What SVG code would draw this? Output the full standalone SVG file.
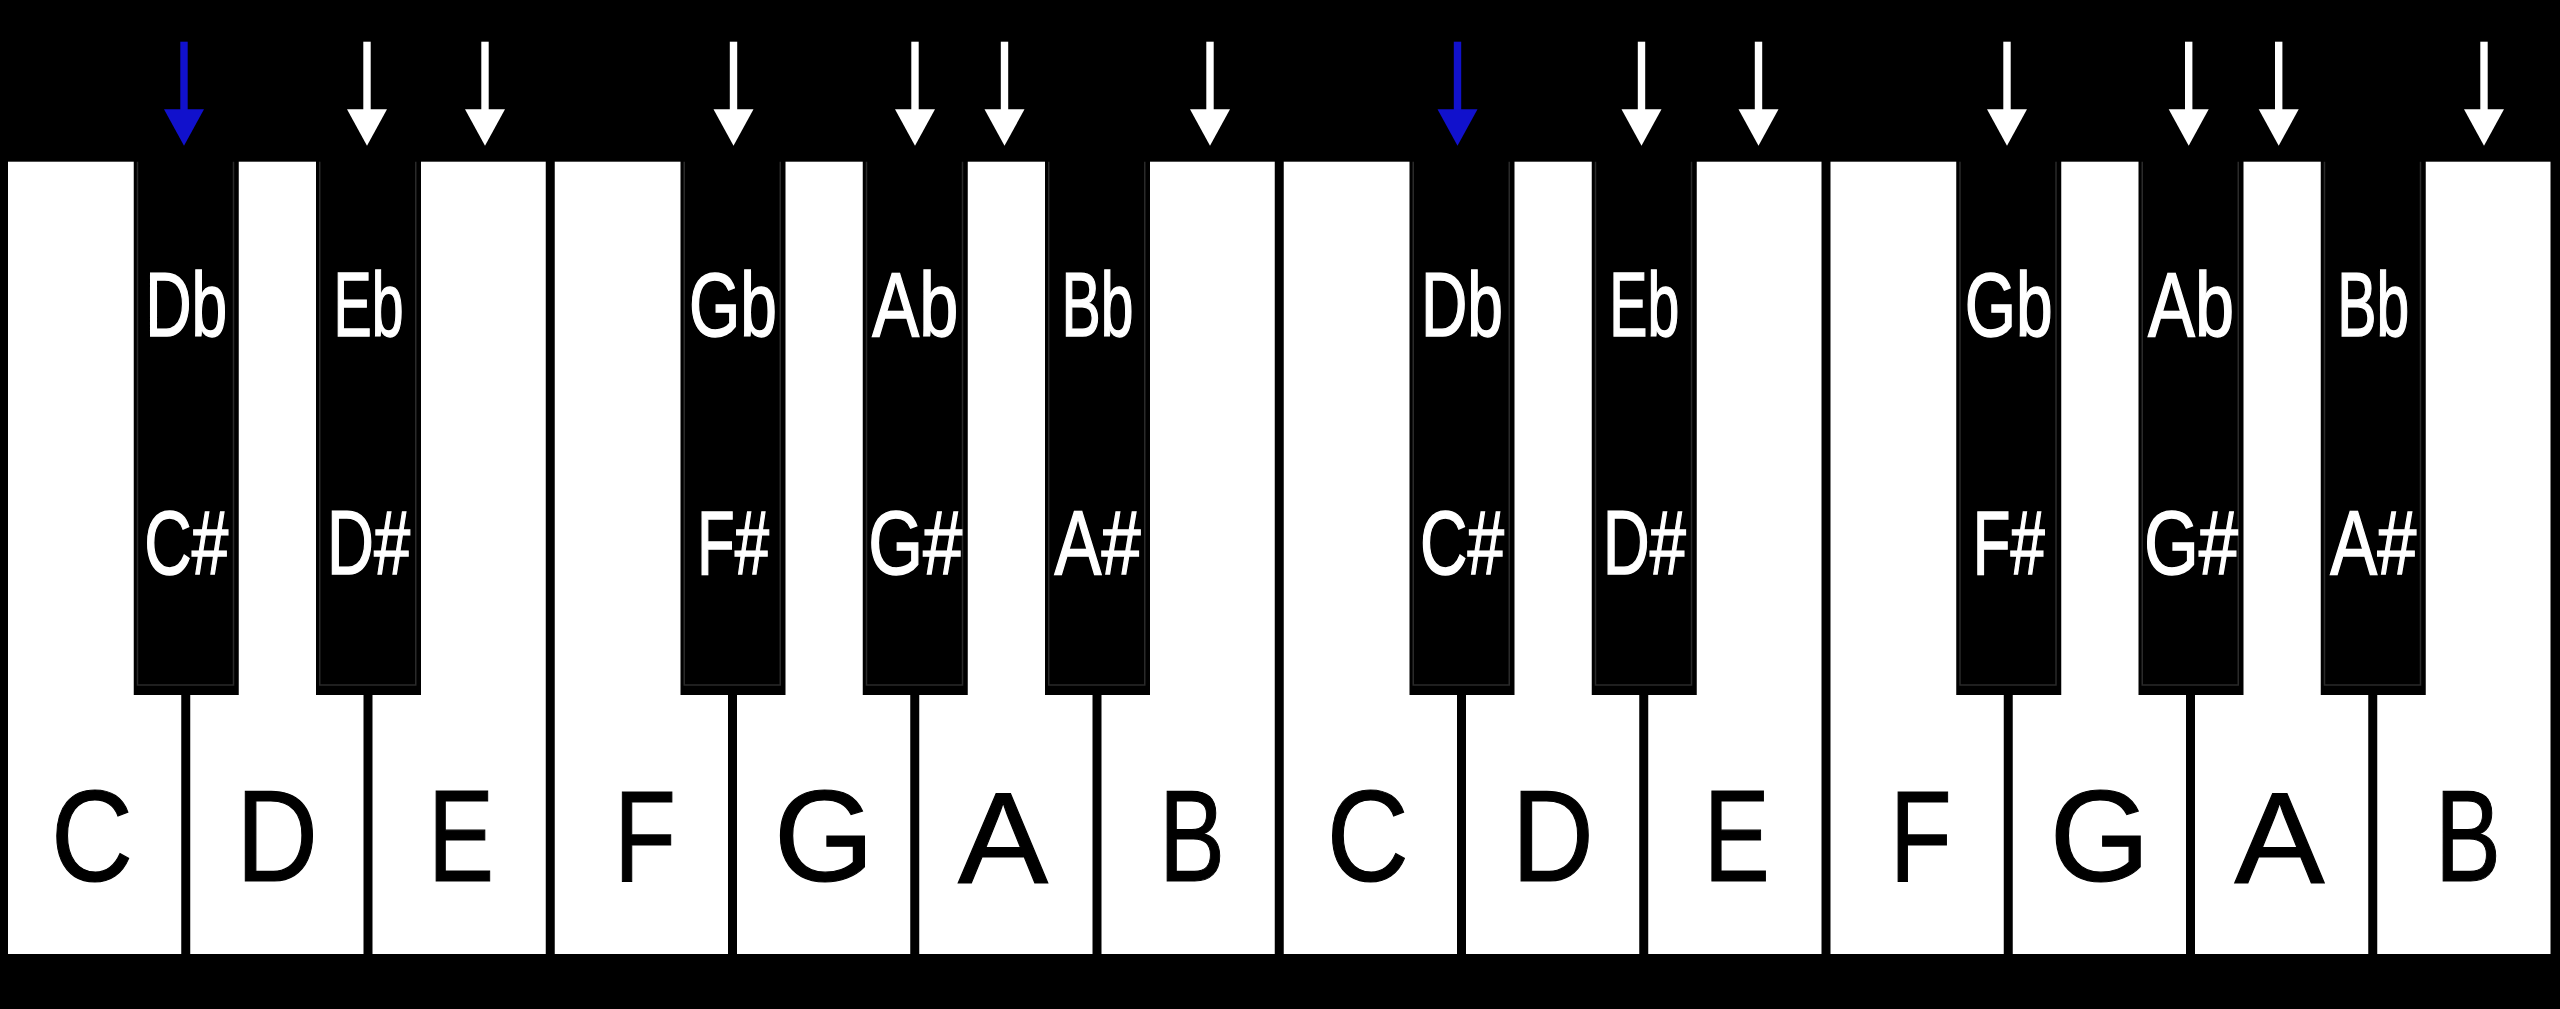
<svg xmlns="http://www.w3.org/2000/svg" width="2560" height="1009" viewBox="0 0 2560 1009">
<style>
.wk{fill:#ffffff}
.bk{fill:#000000}
.bko{fill:none;stroke:#2a2a2a;stroke-width:1.5}
.wl{font-family:"Liberation Sans",Arial,sans-serif;font-size:130px;fill:#000;stroke:#000;stroke-width:1.2;text-anchor:middle}
.bl{font-family:"Liberation Sans",Arial,sans-serif;font-size:91px;fill:#fff;stroke:#fff;stroke-width:1.5;text-anchor:middle}
.aw{fill:#ffffff}
.ab{fill:#1111cc}
</style>
<defs>
<g id="arrow"><rect x="-3.7" y="41.7" width="7.4" height="69"/><polygon points="-20,109.3 20,109.3 0,145.7"/></g>
</defs>
<rect x="0" y="0" width="2560" height="1009" fill="#000"/>
<g id="white-keys">
<g id="key-C1"><rect class="wk" x="8" y="161.7" width="173.25" height="792.3"/><text class="wl" x="92" y="881" textLength="82" lengthAdjust="spacingAndGlyphs">C</text></g>
<g id="key-D1"><rect class="wk" x="190.25" y="161.7" width="173.25" height="792.3"/><text class="wl" x="277" y="881" textLength="82" lengthAdjust="spacingAndGlyphs">D</text></g>
<g id="key-E1"><rect class="wk" x="372.5" y="161.7" width="173.25" height="792.3"/><text class="wl" x="461" y="881" textLength="66" lengthAdjust="spacingAndGlyphs">E</text></g>
<g id="key-F1"><rect class="wk" x="554.75" y="161.7" width="173.25" height="792.3"/><text class="wl" x="645" y="881" textLength="62" lengthAdjust="spacingAndGlyphs">F</text></g>
<g id="key-G1"><rect class="wk" x="737" y="161.7" width="173.25" height="792.3"/><text class="wl" x="824" y="881" textLength="100" lengthAdjust="spacingAndGlyphs">G</text></g>
<g id="key-A1"><rect class="wk" x="919.25" y="161.7" width="173.25" height="792.3"/><text class="wl" x="1003" y="883" textLength="90" lengthAdjust="spacingAndGlyphs">A</text></g>
<g id="key-B1"><rect class="wk" x="1101.5" y="161.7" width="173.25" height="792.3"/><text class="wl" x="1192" y="881" textLength="66" lengthAdjust="spacingAndGlyphs">B</text></g>
<g id="key-C2"><rect class="wk" x="1283.75" y="161.7" width="173.25" height="792.3"/><text class="wl" x="1367.75" y="881" textLength="82" lengthAdjust="spacingAndGlyphs">C</text></g>
<g id="key-D2"><rect class="wk" x="1466" y="161.7" width="173.25" height="792.3"/><text class="wl" x="1552.75" y="881" textLength="82" lengthAdjust="spacingAndGlyphs">D</text></g>
<g id="key-E2"><rect class="wk" x="1648.25" y="161.7" width="173.25" height="792.3"/><text class="wl" x="1736.75" y="881" textLength="66" lengthAdjust="spacingAndGlyphs">E</text></g>
<g id="key-F2"><rect class="wk" x="1830.5" y="161.7" width="173.25" height="792.3"/><text class="wl" x="1920.75" y="881" textLength="62" lengthAdjust="spacingAndGlyphs">F</text></g>
<g id="key-G2"><rect class="wk" x="2012.75" y="161.7" width="173.25" height="792.3"/><text class="wl" x="2099.75" y="881" textLength="100" lengthAdjust="spacingAndGlyphs">G</text></g>
<g id="key-A2"><rect class="wk" x="2195" y="161.7" width="173.25" height="792.3"/><text class="wl" x="2279.5" y="883" textLength="90" lengthAdjust="spacingAndGlyphs">A</text></g>
<g id="key-B2"><rect class="wk" x="2377.25" y="161.7" width="173.25" height="792.3"/><text class="wl" x="2468" y="881" textLength="66" lengthAdjust="spacingAndGlyphs">B</text></g>
</g>
<g id="black-keys">
<g id="key-Db1"><rect class="bk" x="133.75" y="150" width="105" height="545"/><path class="bko" d="M137.5,161.7 V685 H233.5 V161.7"/><text class="bl" x="186.25" y="336" textLength="82" lengthAdjust="spacingAndGlyphs">Db</text><text class="bl" x="186.25" y="574" textLength="84" lengthAdjust="spacingAndGlyphs">C#</text></g>
<g id="key-Eb1"><rect class="bk" x="316" y="150" width="105" height="545"/><path class="bko" d="M319.75,161.7 V685 H415.75 V161.7"/><text class="bl" x="368.5" y="336" textLength="70" lengthAdjust="spacingAndGlyphs">Eb</text><text class="bl" x="368.5" y="574" textLength="83" lengthAdjust="spacingAndGlyphs">D#</text></g>
<g id="key-Gb1"><rect class="bk" x="680.5" y="150" width="105" height="545"/><path class="bko" d="M684.25,161.7 V685 H780.25 V161.7"/><text class="bl" x="733" y="336" textLength="88" lengthAdjust="spacingAndGlyphs">Gb</text><text class="bl" x="733" y="574" textLength="72" lengthAdjust="spacingAndGlyphs">F#</text></g>
<g id="key-Ab1"><rect class="bk" x="862.75" y="150" width="105" height="545"/><path class="bko" d="M866.5,161.7 V685 H962.5 V161.7"/><text class="bl" x="915.25" y="336" textLength="86" lengthAdjust="spacingAndGlyphs">Ab</text><text class="bl" x="915.25" y="574" textLength="94" lengthAdjust="spacingAndGlyphs">G#</text></g>
<g id="key-Bb1"><rect class="bk" x="1045" y="150" width="105" height="545"/><path class="bko" d="M1048.75,161.7 V685 H1144.75 V161.7"/><text class="bl" x="1097.5" y="336" textLength="72" lengthAdjust="spacingAndGlyphs">Bb</text><text class="bl" x="1097.5" y="574" textLength="86" lengthAdjust="spacingAndGlyphs">A#</text></g>
<g id="key-Db2"><rect class="bk" x="1409.5" y="150" width="105" height="545"/><path class="bko" d="M1413.25,161.7 V685 H1509.25 V161.7"/><text class="bl" x="1462" y="336" textLength="82" lengthAdjust="spacingAndGlyphs">Db</text><text class="bl" x="1462" y="574" textLength="84" lengthAdjust="spacingAndGlyphs">C#</text></g>
<g id="key-Eb2"><rect class="bk" x="1591.75" y="150" width="105" height="545"/><path class="bko" d="M1595.5,161.7 V685 H1691.5 V161.7"/><text class="bl" x="1644.25" y="336" textLength="70" lengthAdjust="spacingAndGlyphs">Eb</text><text class="bl" x="1644.25" y="574" textLength="83" lengthAdjust="spacingAndGlyphs">D#</text></g>
<g id="key-Gb2"><rect class="bk" x="1956.25" y="150" width="105" height="545"/><path class="bko" d="M1960,161.7 V685 H2056 V161.7"/><text class="bl" x="2008.75" y="336" textLength="88" lengthAdjust="spacingAndGlyphs">Gb</text><text class="bl" x="2008.75" y="574" textLength="72" lengthAdjust="spacingAndGlyphs">F#</text></g>
<g id="key-Ab2"><rect class="bk" x="2138.5" y="150" width="105" height="545"/><path class="bko" d="M2142.25,161.7 V685 H2238.25 V161.7"/><text class="bl" x="2191" y="336" textLength="86" lengthAdjust="spacingAndGlyphs">Ab</text><text class="bl" x="2191" y="574" textLength="94" lengthAdjust="spacingAndGlyphs">G#</text></g>
<g id="key-Bb2"><rect class="bk" x="2320.75" y="150" width="105" height="545"/><path class="bko" d="M2324.5,161.7 V685 H2420.5 V161.7"/><text class="bl" x="2373.25" y="336" textLength="72" lengthAdjust="spacingAndGlyphs">Bb</text><text class="bl" x="2373.25" y="574" textLength="86" lengthAdjust="spacingAndGlyphs">A#</text></g>
</g>
<g id="arrows">
<use href="#arrow" class="ab" x="184" y="0"/>
<use href="#arrow" class="aw" x="367" y="0"/>
<use href="#arrow" class="aw" x="485" y="0"/>
<use href="#arrow" class="aw" x="733.5" y="0"/>
<use href="#arrow" class="aw" x="915" y="0"/>
<use href="#arrow" class="aw" x="1004.5" y="0"/>
<use href="#arrow" class="aw" x="1210" y="0"/>
<use href="#arrow" class="ab" x="1457.5" y="0"/>
<use href="#arrow" class="aw" x="1641.5" y="0"/>
<use href="#arrow" class="aw" x="1758.5" y="0"/>
<use href="#arrow" class="aw" x="2007" y="0"/>
<use href="#arrow" class="aw" x="2188.7" y="0"/>
<use href="#arrow" class="aw" x="2278.7" y="0"/>
<use href="#arrow" class="aw" x="2484" y="0"/>
</g>
</svg>
